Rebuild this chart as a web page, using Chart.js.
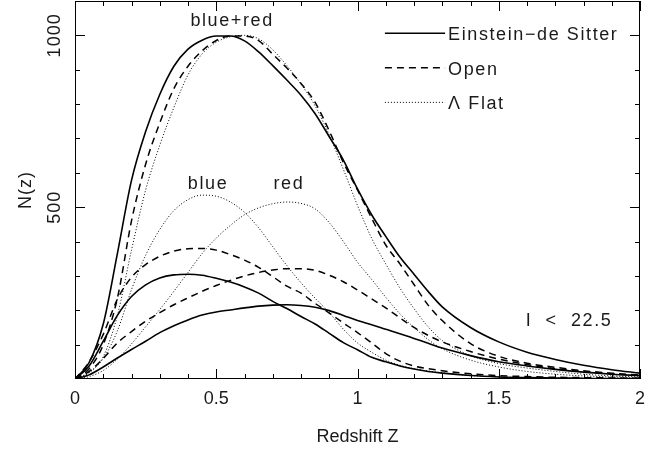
<!DOCTYPE html>
<html>
<head>
<meta charset="utf-8">
<script src="https://cdn.jsdelivr.net/npm/chart.js@4"></script>
<style>
  html, body { margin: 0; padding: 0; background: #fff; }
  #wrap { width: 659px; height: 454px; }
</style>
</head>
<body>
<div id="wrap"><canvas id="chart_canvas"></canvas></div>
<script>
// redshift grid (shared x for every curve)
const z = [0, 0.05, 0.1, 0.15, 0.2, 0.25, 0.3, 0.35, 0.4, 0.45, 0.5, 0.55, 0.6, 0.65, 0.7, 0.75, 0.8, 0.85, 0.9, 0.95,
           1.0, 1.05, 1.1, 1.15, 1.2, 1.25, 1.3, 1.4, 1.5, 1.6, 1.7, 1.8, 1.9, 2.0];

// blue+red
const edsTotal    = [0, 48, 160, 365, 578, 720, 828, 910, 960, 986, 998, 998, 984, 952, 912, 870, 826, 772, 705, 637, 553, 478, 415, 355, 305, 255, 210, 150, 108, 78, 57, 40, 27, 17];
const openTotal   = [0, 30, 100, 235, 460, 625, 745, 845, 910, 955, 985, 998, 998, 985, 945, 905, 860, 805, 722, 630, 550, 468, 390, 335, 275, 215, 170, 103, 66, 46, 34, 24, 17, 11];
const lambdaTotal = [0, 18, 65, 185, 375, 550, 680, 790, 885, 946, 980, 996, 1000, 990, 958, 912, 858, 795, 710, 610, 505, 410, 335, 265, 205, 152, 112, 68, 45, 32, 22, 14, 9, 6];

// blue
const edsBlue    = [0, 38, 110, 185, 240, 274, 294, 303, 305, 302, 293, 282, 268, 250, 226, 205, 182, 160, 133, 106, 85, 63, 50, 38, 29, 22, 17, 10, 6, 4, 3, 2, 1, 1];
const openBlue   = [0, 50, 130, 232, 296, 333, 357, 372, 379, 380, 375, 362, 346, 325, 298, 270, 250, 220, 192, 163, 135, 105, 74, 52, 38, 30, 24, 15, 10, 7, 5, 4, 3, 2];
const lambdaBlue = [0, 20, 60, 140, 260, 360, 435, 490, 522, 535, 532, 515, 485, 440, 385, 330, 280, 235, 193, 145, 105, 78, 55, 40, 30, 23, 18, 10, 6, 4, 3, 2, 1, 1];

// red
const edsRed    = [0, 12, 35, 61, 86, 110, 135, 155, 172, 186, 195, 201, 207, 212, 215, 216, 214, 209, 199, 185, 170, 158, 145, 132, 118, 104, 90, 68, 50, 38, 28, 20, 14, 10];
const openRed   = [0, 22, 60, 105, 138, 168, 193, 216, 236, 255, 272, 287, 300, 310, 317, 321, 321, 316, 302, 283, 259, 233, 207, 178, 150, 127, 108, 80, 58, 42, 30, 21, 15, 10];
const lambdaRed = [0, 7, 25, 58, 102, 152, 202, 255, 310, 365, 410, 447, 478, 498, 510, 515, 511, 495, 455, 400, 340, 290, 238, 190, 150, 115, 88, 55, 35, 22, 14, 9, 6, 4];

const xTickLabels = ['0', '0.5', '1', '1.5', '2'];
const yTickValues = [500, 1000];
const yTickLabels = ['500', '1000'];
const legendNames = ['Einstein\u2212de Sitter', 'Open', '\u039B Flat'];

const FONT = "'Liberation Sans', Arial, sans-serif";
const INK = '#1a1a1a';
const styles = [
    { dash: [], width: 1.6 },
    { dash: [7, 5], width: 1.5 },
    { dash: [1, 2], width: 1 },
];

const pts = (ys) => ys.map((v, i) => ({ x: z[i], y: v }));
const series = [
    [edsTotal, openTotal, lambdaTotal],
    [edsBlue, openBlue, lambdaBlue],
    [edsRed, openRed, lambdaRed],
];
const datasets = [];
series.forEach(group => group.forEach((ys, m) => {
    datasets.push({
        label: legendNames[m],
        data: pts(ys),
        borderColor: '#000',
        borderWidth: styles[m].width,
        borderDash: styles[m].dash,
        pointRadius: 0,
        fill: false,
        cubicInterpolationMode: 'monotone',
    });
}));

const CHART_CANVAS = document.getElementById('chart_canvas');

const framePlugin = {
    id: 'frame',
    afterDraw(chart) {
        const { ctx, chartArea: a, scales: { x, y } } = chart;
        ctx.save();
        ctx.strokeStyle = '#000';
        ctx.lineWidth = 1;
        ctx.setLineDash([]);
        ctx.strokeRect(a.left + 0.5, a.top + 0.5, a.right - a.left - 1, a.bottom - a.top - 1);
        ctx.beginPath();
        for (let i = 0; i <= 20; i++) {
            const px = Math.round(x.getPixelForValue(i / 10)) + 0.5;
            const len = i % 5 === 0 ? 10 : 5;
            ctx.moveTo(px, a.bottom); ctx.lineTo(px, a.bottom - len);
            ctx.moveTo(px, a.top); ctx.lineTo(px, a.top + len);
        }
        for (let v = 100; v <= 1100; v += 100) {
            const py = Math.round(y.getPixelForValue(v)) + 0.5;
            const len = v % 500 === 0 ? 10 : 5;
            ctx.moveTo(a.left, py); ctx.lineTo(a.left + len, py);
            ctx.moveTo(a.right, py); ctx.lineTo(a.right - len, py);
        }
        ctx.stroke();

        ctx.fillStyle = INK;
        ctx.font = '18px ' + FONT;
        ctx.textAlign = 'center';
        ctx.textBaseline = 'middle';
        ctx.letterSpacing = '1px';
        // rotated y labels
        yTickValues.forEach((v, i) => {
            ctx.save();
            ctx.translate(a.left - 20, y.getPixelForValue(v));
            ctx.rotate(-Math.PI / 2);
            ctx.fillText(yTickLabels[i], 0, 0);
            ctx.restore();
        });
        ctx.save();
        ctx.translate(26, y.getPixelForValue(550));
        ctx.rotate(-Math.PI / 2);
        ctx.fillText('N(z)', 0, 0);
        ctx.restore();

        // curve labels
        ctx.letterSpacing = '1.6px';
        const note = (t, zx, ny) => ctx.fillText(t, x.getPixelForValue(zx), y.getPixelForValue(ny));
        note('blue+red', 0.556, 1041);
        note('blue', 0.471, 567);
        note('red', 0.757, 567);
        note('I  <  22.5', 1.749, 170);

        // legend
        const legendY = [1006, 906, 805];
        const x0 = x.getPixelForValue(1.097), x1 = x.getPixelForValue(1.31);
        ctx.textAlign = 'left';
        legendNames.forEach((name, m) => {
            const py = y.getPixelForValue(legendY[m]);
            ctx.beginPath();
            ctx.lineWidth = styles[m].width;
            ctx.setLineDash(styles[m].dash);
            ctx.moveTo(x0, py); ctx.lineTo(x1, py);
            ctx.stroke();
            ctx.fillText(name, x1 + 3, py + 2);
        });
        ctx.restore();
    }
};

const config = {
    type: 'line',
    data: { datasets: datasets },
    options: {
        responsive: true,
        maintainAspectRatio: false,
        animation: false,
        layout: { padding: { top: 1, right: 19, bottom: 2, left: 0 } },
        plugins: {
            legend: { display: false },
            tooltip: { enabled: false },
        },
        scales: {
            x: {
                type: 'linear',
                min: 0,
                max: 2,
                grid: { display: false, drawTicks: false },
                border: { display: false },
                ticks: {
                    stepSize: 0.5,
                    autoSkip: false,
                    maxRotation: 0,
                    padding: 9,
                    color: INK,
                    font: { family: FONT, size: 18 },
                    callback: (v, i) => xTickLabels[i],
                },
                title: {
                    display: true,
                    text: 'Redshift Z',
                    color: INK,
                    font: { family: FONT, size: 18 },
                },
                afterFit: (s) => { s.height = 73; },
            },
            y: {
                type: 'linear',
                min: 0,
                max: 1100,
                grid: { display: false, drawTicks: false },
                border: { display: false },
                ticks: { display: false },
                afterFit: (s) => { s.width = 75; },
            },
        },
    },
    plugins: [framePlugin],
};

const myChart = new Chart(CHART_CANVAS, config);
</script>
</body>
</html>
